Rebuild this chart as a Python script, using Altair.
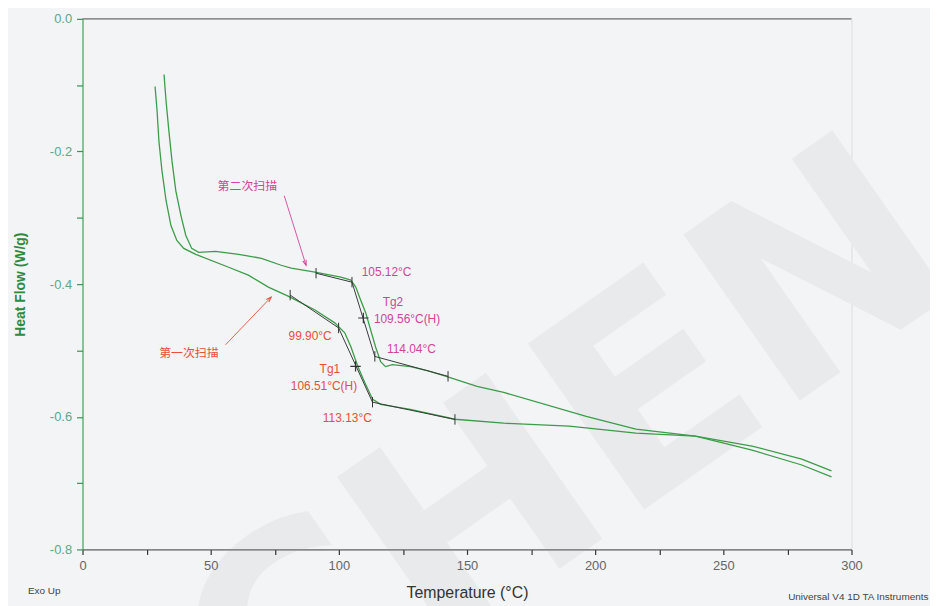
import altair as alt
import pandas as pd

# ---------------- data ----------------
scan1_T = [28.3, 29.1, 29.8, 31.0, 32.6, 34.5, 36.8, 39.5, 42.6, 44.2, 57.0, 64.7, 72.5, 80.2,
           90.7, 98.4, 102.3, 104.7, 107.4, 110.1, 113.2, 116.3, 127.9, 145.3, 164.3, 189.9,
           215.9, 239.1, 261.2, 280.6, 292.2]
scan1_HF = [-0.1019, -0.1393, -0.1843, -0.2292, -0.2742, -0.3116, -0.3341, -0.3461, -0.3521,
            -0.3551, -0.3745, -0.3865, -0.4045, -0.4180, -0.4390, -0.4584, -0.4734, -0.4944,
            -0.5243, -0.5483, -0.5738, -0.5813, -0.5888, -0.6037, -0.6097, -0.6142, -0.6247,
            -0.6292, -0.6442, -0.6637, -0.6816]

scan2_T = [31.8, 32.6, 33.7, 34.9, 36.4, 38.4, 40.3, 42.6, 45.3, 51.9, 60.9, 69.8, 77.5, 81.4,
           90.7, 100.8, 104.7, 106.6, 108.5, 110.5, 112.4, 114.3, 116.3, 118.2, 120.9, 127.9,
           134.5, 142.2, 153.9, 164.3, 196.5, 215.9, 239.1, 261.2, 280.6, 292.2]
scan2_HF = [-0.0839, -0.1243, -0.1693, -0.2142, -0.2592, -0.2966, -0.3266, -0.3461, -0.3521,
            -0.3506, -0.3551, -0.3610, -0.3715, -0.3760, -0.3820, -0.3895, -0.3940, -0.4045,
            -0.4240, -0.4434, -0.4689, -0.4944, -0.5169, -0.5243, -0.5213, -0.5243, -0.5303,
            -0.5393, -0.5543, -0.5633, -0.5993, -0.6187, -0.6292, -0.6502, -0.6727, -0.6906]

# glass transition construction (baseline / onset / end / baseline)
tg1_T = [81.0, 99.90, 113.13, 145.3]
tg1_HF = [-0.4165, -0.466, -0.578, -0.604]
tg2_T = [91.1, 105.12, 114.04, 142.6]
tg2_HF = [-0.3835, -0.397, -0.509, -0.539]
mid_T = [106.51, 109.56]
mid_HF = [-0.524, -0.451]

# annotations
lab_text = ["105.12°C", "Tg2", "109.56°C(H)", "114.04°C",
            "99.90°C", "Tg1", "106.51°C(H)", "113.13°C",
            "第二次扫描", "第一次扫描"]
lab_T = [118.6, 121.1, 126.6, 128.3, 88.8, 96.5, 94.2, 103.3, 64.3, 41.5]
lab_HF = [-0.382, -0.4265, -0.4524, -0.4974, -0.4779, -0.5273, -0.5543, -0.6022, -0.2517, -0.5034]
lab_grp = ["s2", "s2", "s2", "s2", "s1", "s1", "s1", "s1", "s2", "s1"]

arrow_T = [[78.7, 87.2], [55.8, 73.6]]
arrow_HF = [[-0.2667, -0.3715], [-0.4914, -0.4195]]
arrow_grp = ["s2", "s1"]
arrow_angle = [342.5, 224]

foot_left_text = ["Exo Up"]
foot_left_T = [-21.3]
foot_left_HF = [-0.8625]
foot_right_text = ["Universal V4 1D TA Instruments"]
foot_right_T = [330.0]
foot_right_HF = [-0.8715]

wm_text = ["CHEN"]
wm_T = [190.0]
wm_HF = [-0.665]

x_ticks = [i * 12.5 for i in range(25)]
y_ticks = [-i * 0.05 for i in range(17)]

# ---------------- tables ----------------
curves = pd.concat([
    pd.DataFrame({"T": scan1_T, "HF": scan1_HF, "scan": "第一次扫描"}),
    pd.DataFrame({"T": scan2_T, "HF": scan2_HF, "scan": "第二次扫描"}),
])
constr = pd.concat([
    pd.DataFrame({"T": tg1_T, "HF": tg1_HF, "g": "tg1", "o": range(4)}),
    pd.DataFrame({"T": tg2_T, "HF": tg2_HF, "g": "tg2", "o": range(4)}),
])
mids = pd.DataFrame({"T": mid_T, "HF": mid_HF})
labels = pd.DataFrame({"T": lab_T, "HF": lab_HF, "text": lab_text, "grp": lab_grp})
arrows = pd.concat([
    pd.DataFrame({"T": arrow_T[i], "HF": arrow_HF[i], "grp": arrow_grp[i], "o": [0, 1]})
    for i in range(2)
])
heads = pd.DataFrame({"T": [a[1] for a in arrow_T], "HF": [a[1] for a in arrow_HF],
                      "grp": arrow_grp, "ang": arrow_angle})
foot_l = pd.DataFrame({"T": foot_left_T, "HF": foot_left_HF, "text": foot_left_text})
foot_r = pd.DataFrame({"T": foot_right_T, "HF": foot_right_HF, "text": foot_right_text})
wm = pd.DataFrame({"T": wm_T, "HF": wm_HF, "text": wm_text})

GREEN = "#3c9c48"
grp_scale = alt.Scale(domain=["s1", "s2"], range=["#e5503c", "#d2449a"])

xs = alt.Scale(domain=[0, 300], nice=False, zero=False)
ys = alt.Scale(domain=[-0.8, 0.0], nice=False, zero=False)

x_axis = alt.Axis(
    values=x_ticks, labelExpr="datum.value % 50 == 0 ? format(datum.value, 'd') : ''",
    tickSize=5, tickWidth=1.2, tickColor="#333333", domainColor="#444444", labelColor="#666666",
    labelFontSize=13, labelFont="Liberation Sans Narrow, Liberation Sans, Arial",
    labelPadding=5, labelOverlap=False, labelFlush=False, grid=False, zindex=1,
    title="Temperature (°C)", titleFontSize=16, titleFontWeight="normal",
    titleColor="#333333", titleFont="Liberation Sans Narrow, Liberation Sans, Arial",
    titlePadding=12)
y_axis = alt.Axis(
    values=y_ticks,
    labelExpr="abs(round(datum.value*100)) % 20 == 0 ? (datum.value < -0.001 ? '-' : '') + format(abs(datum.value), '.1f') : ''",
    tickSize=6, tickWidth=1.2, tickColor="#3f8f55", domainColor="#2f9a45", labelColor="#5aa88a",
    labelFontSize=13, labelFont="Liberation Sans, Arial", labelPadding=5,
    labelOverlap=False, labelFlush=False, grid=False, zindex=1,
    title="Heat Flow (W/g)", titleFontSize=14, titleFontWeight="bold",
    titleColor="#2e8b3a", titleFont="Liberation Sans, Arial", titlePadding=22)

X = alt.X("T:Q", scale=xs)
Y = alt.Y("HF:Q", scale=ys)

wm_layer = alt.Chart(wm).mark_text(
    angle=325, fontSize=280, font="DejaVu Sans", fontWeight="bold", color="#e8eaec",
    align="center", baseline="middle").encode(
    x=alt.X("T:Q", scale=xs, axis=x_axis), y=alt.Y("HF:Q", scale=ys, axis=y_axis), text="text:N")

top_rule = alt.Chart(pd.DataFrame({"HF": [0.0]})).mark_rule(color="#555555", strokeWidth=1).encode(
    y=Y)

curve_layer = alt.Chart(curves).mark_line(color=GREEN, strokeWidth=1.3).encode(
    x=X, y=Y, detail="scan:N")

constr_layer = alt.Chart(constr).mark_line(color="#3a3a3a", strokeWidth=1).encode(
    x=X, y=Y, detail="g:N", order="o:Q")

tick_layer = alt.Chart(constr).mark_point(
    shape="M0,-1L0,1", size=110, color="#333333", strokeWidth=1, filled=False, opacity=1).encode(
    x=X, y=Y)

cross_layer = alt.Chart(mids).mark_point(
    shape="M-1,0L1,0M0,-1L0,1", size=110, color="#333333", strokeWidth=1.2, filled=False, opacity=1).encode(
    x=X, y=Y)

label_layer = alt.Chart(labels).mark_text(
    fontSize=12, font="Liberation Sans, Noto Sans CJK SC, Arial", align="center", baseline="middle").encode(
    x=X, y=Y, text="text:N",
    color=alt.Color("grp:N", scale=grp_scale, legend=None))

arrow_layer = alt.Chart(arrows).mark_line(strokeWidth=0.9).encode(
    x=X, y=Y, detail="grp:N", order="o:Q",
    color=alt.Color("grp:N", scale=grp_scale, legend=None))

head_layer = alt.Chart(heads).mark_point(
    shape="M-0.45,-1.3L0,0L0.45,-1.3", size=64, strokeWidth=1, filled=False, opacity=1).encode(
    x=X, y=Y, angle=alt.Angle("ang:Q", scale=None),
    color=alt.Color("grp:N", scale=grp_scale, legend=None))

foot_l_layer = alt.Chart(foot_l).mark_text(
    fontSize=10, color="#444444", baseline="middle", align="left",
    font="Liberation Sans Narrow, Liberation Sans, Arial").encode(x=X, y=Y, text="text:N")
foot_r_layer = alt.Chart(foot_r).mark_text(
    fontSize=10, color="#444444", baseline="middle", align="right",
    font="Liberation Sans Narrow, Liberation Sans, Arial").encode(x=X, y=Y, text="text:N")

chart = alt.layer(
    wm_layer, curve_layer, top_rule, constr_layer, tick_layer, cross_layer,
    arrow_layer, head_layer, label_layer, foot_l_layer, foot_r_layer,
).properties(
    width=774, height=534,
    autosize=alt.AutoSizeParams(type="none"),
    padding={"left": 75, "top": 9, "right": 79, "bottom": 55},
).configure_view(stroke="#3c9c48", strokeWidth=1).configure(background="#f2f4f6")

chart.save("out.html", embed_options={"renderer": "svg", "actions": False})
